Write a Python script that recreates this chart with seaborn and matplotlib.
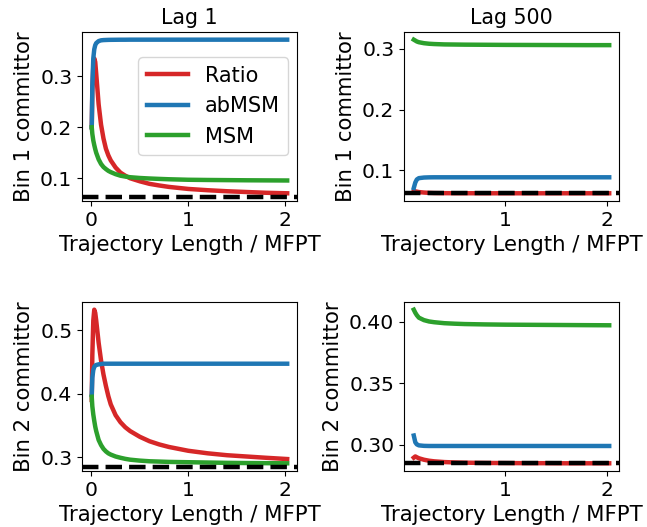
import numpy as np
import pandas as pd
import matplotlib
matplotlib.use("Agg")
import matplotlib.pyplot as plt
import seaborn as sns

plt.rcParams['font.size'] = 15
plt.rcParams['font.family'] = ['DejaVu Sans']
plt.rcParams['xtick.labelsize'] = 14.6
plt.rcParams['ytick.labelsize'] = 14.6
plt.rcParams['axes.labelsize'] = 15.3
plt.rcParams['axes.titlesize'] = 14.8

methods = ["Ratio", "abMSM", "MSM"]
colors = ["#d62728", "#1f77b4", "#2ca02c"]
titles = ["Lag 1", "Lag 500"]
ylabels = ["Bin 1 committor", "Bin 2 committor"]
xlabel = "Trajectory Length / MFPT"

# x grids (trajectory length / MFPT)
x_lag1 = [0.004, 0.01, 0.02, 0.03, 0.04, 0.05, 0.075, 0.1, 0.125, 0.15, 0.175, 0.2, 0.25,
          0.3, 0.35, 0.4, 0.5, 0.6, 0.7, 0.8, 1.0, 1.2, 1.4, 1.6, 1.8, 2.02]
x_lag500 = [0.1, 0.115, 0.13, 0.15, 0.2, 0.25, 0.3, 0.4, 0.5, 0.6, 0.8,
            1.0, 1.2, 1.4, 1.6, 1.8, 2.02]

# Bin 1, lag 1
b1_l1_ratio = [0.20, 0.27, 0.32, 0.335, 0.328, 0.305, 0.245, 0.205, 0.178, 0.158, 0.145, 0.135, 0.121,
               0.111, 0.105, 0.100, 0.094, 0.089, 0.0858, 0.083, 0.079, 0.0765, 0.0745, 0.073, 0.0715, 0.0705]
b1_l1_abmsm = [0.20, 0.28, 0.335, 0.353, 0.361, 0.365, 0.369, 0.3705, 0.371, 0.3712, 0.3714, 0.3715, 0.3716,
               0.3717, 0.3717, 0.3718, 0.3718, 0.3718, 0.3718, 0.3718, 0.3718, 0.3718, 0.3718, 0.3718, 0.3718, 0.3718]
b1_l1_msm = [0.20, 0.187, 0.174, 0.165, 0.157, 0.150, 0.137, 0.128, 0.122, 0.118, 0.1145, 0.112, 0.108,
             0.105, 0.1033, 0.102, 0.1005, 0.0995, 0.0987, 0.098, 0.097, 0.0966, 0.0963, 0.096, 0.0958, 0.0956]

# Bin 1, lag 500
b1_l500_ratio = [0.0665, 0.0655, 0.065, 0.0643, 0.0635, 0.063, 0.0627, 0.0625, 0.0624, 0.0624,
                 0.0623, 0.0623, 0.0623, 0.0623, 0.0623, 0.0623, 0.0623]
b1_l500_abmsm = [0.071, 0.080, 0.085, 0.0872, 0.0882, 0.0885, 0.0886, 0.0886, 0.0886, 0.0886,
                 0.0886, 0.0886, 0.0886, 0.0886, 0.0886, 0.0886, 0.0886]
b1_l500_msm = [0.315, 0.3135, 0.312, 0.3108, 0.3092, 0.3083, 0.3078, 0.3072, 0.307, 0.3068,
               0.3066, 0.3064, 0.3063, 0.3062, 0.3061, 0.306, 0.306]

# Bin 2, lag 1
b2_l1_ratio = [0.39, 0.46, 0.515, 0.532, 0.527, 0.515, 0.48, 0.452, 0.430, 0.412, 0.396, 0.383, 0.366,
               0.355, 0.347, 0.341, 0.332, 0.325, 0.320, 0.316, 0.310, 0.306, 0.303, 0.301, 0.299, 0.297]
b2_l1_abmsm = [0.398, 0.425, 0.437, 0.442, 0.444, 0.445, 0.446, 0.4465, 0.447, 0.447, 0.447, 0.447, 0.447,
               0.447, 0.447, 0.447, 0.447, 0.447, 0.447, 0.447, 0.447, 0.447, 0.447, 0.447, 0.447, 0.447]
b2_l1_msm = [0.395, 0.38, 0.367, 0.357, 0.348, 0.341, 0.327, 0.319, 0.313, 0.309, 0.306, 0.304, 0.301,
             0.299, 0.2973, 0.296, 0.2945, 0.2935, 0.293, 0.2925, 0.292, 0.2915, 0.291, 0.2907, 0.2905, 0.2903]

# Bin 2, lag 500
b2_l500_ratio = [0.2895, 0.2905, 0.2898, 0.289, 0.2878, 0.287, 0.2865, 0.2859, 0.2856, 0.2854,
                 0.2852, 0.2851, 0.285, 0.285, 0.2849, 0.2849, 0.2849]
b2_l500_abmsm = [0.3075, 0.302, 0.3003, 0.2995, 0.2991, 0.299, 0.299, 0.299, 0.299, 0.299,
                 0.299, 0.299, 0.299, 0.299, 0.299, 0.299, 0.299]
b2_l500_msm = [0.410, 0.4075, 0.4055, 0.4035, 0.4015, 0.4004, 0.3998, 0.399, 0.3986, 0.3983,
               0.398, 0.3978, 0.3977, 0.3976, 0.3975, 0.3974, 0.3973]

# reference (true) committors
true_bin1 = 0.0625
true_bin2 = 0.2848

panels = [
    (0, 0, x_lag1, [b1_l1_ratio, b1_l1_abmsm, b1_l1_msm], true_bin1),
    (0, 1, x_lag500, [b1_l500_ratio, b1_l500_abmsm, b1_l500_msm], true_bin1),
    (1, 0, x_lag1, [b2_l1_ratio, b2_l1_abmsm, b2_l1_msm], true_bin2),
    (1, 1, x_lag500, [b2_l500_ratio, b2_l500_abmsm, b2_l500_msm], true_bin2),
]

fig, axes = plt.subplots(2, 2, figsize=(6.47, 5.27), dpi=100)
fig.subplots_adjust(left=0.1267, right=0.9567, bottom=0.1063, top=0.9393,
                    wspace=0.498, hspace=0.598)

for r, c, xs, series, truth in panels:
    ax = axes[r, c]
    frames = []
    for m, vals in zip(methods, series):
        frames.append(pd.DataFrame({"x": xs, "y": vals, "method": m}))
    df = pd.concat(frames, ignore_index=True)
    sns.lineplot(data=df, x="x", y="y", hue="method", hue_order=methods,
                 palette=colors, linewidth=3.2, ax=ax, legend=(r == 0 and c == 0),
                 estimator=None, sort=True)
    ax.axhline(truth, color="black", linestyle="--", linewidth=3.2)
    ax.set_xlabel(xlabel)
    ax.set_ylabel(ylabels[r])
    if r == 0:
        ax.set_title(titles[c])
    if r == 0 and c == 0:
        ax.legend(loc="upper right", bbox_to_anchor=(0.96, 0.85), borderaxespad=0,
                  fontsize=15)

fig.savefig("out.png", dpi=100)
